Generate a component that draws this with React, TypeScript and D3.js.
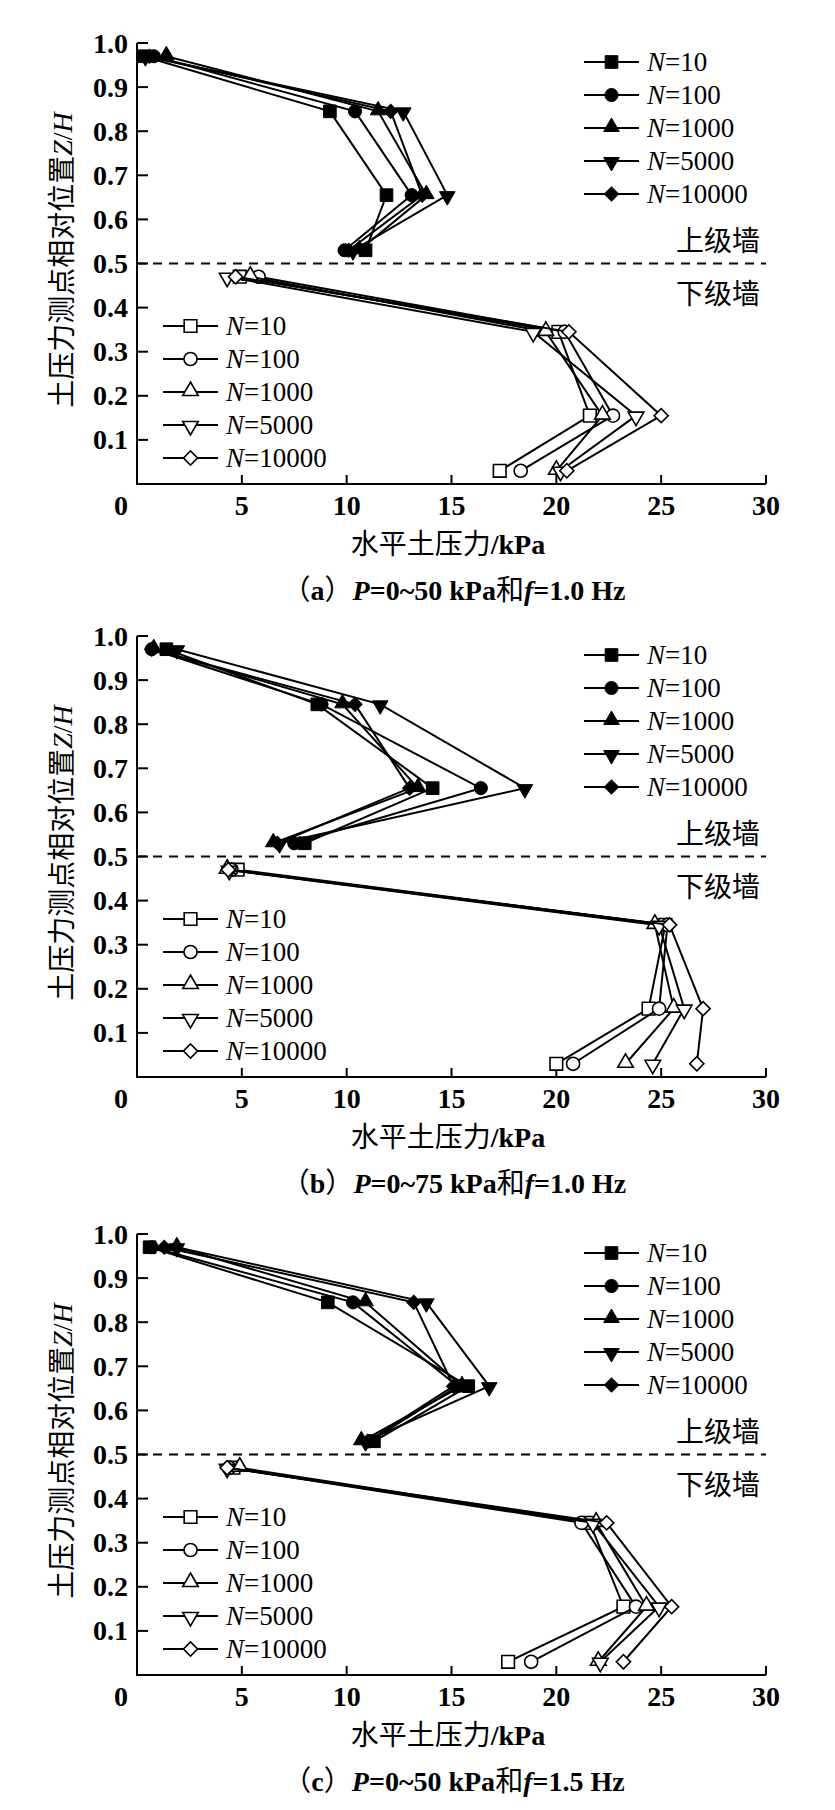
import * as d3 from "d3";
import React from "react";

// ── Data ──────────────────────────────────────────────────────────────────────
const Y_UPPER = [0.97, 0.845, 0.655, 0.53]; // 上级墙测点
const Y_LOWER = [0.47, 0.345, 0.155, 0.03]; // 下级墙测点
const SERIES_N = ["10", "100", "1000", "5000", "10000"];
const X_TICKS = [5, 10, 15, 20, 25, 30];
const Y_TICKS = [0.1, 0.2, 0.3, 0.4, 0.5, 0.6, 0.7, 0.8, 0.9, 1.0];

// (a) P=0~50 kPa, f=1.0 Hz
const A_UPPER = [
  [0.3, 9.2, 11.9, 10.9],
  [0.8, 10.4, 13.1, 9.9],
  [1.4, 11.5, 13.8, 10.6],
  [0.4, 12.7, 14.8, 10.3],
  [0.6, 12.1, 13.6, 10.1],
];
const A_LOWER = [
  [4.9, 20.1, 21.6, 17.3],
  [5.8, 20.4, 22.7, 18.3],
  [5.4, 19.5, 22.2, 20.0],
  [4.3, 18.9, 23.8, 20.2],
  [4.7, 20.6, 25.0, 20.5],
];

// (b) P=0~75 kPa, f=1.0 Hz
const B_UPPER = [
  [1.4, 8.6, 14.1, 8.0],
  [0.7, 8.8, 16.4, 7.5],
  [0.8, 9.8, 13.4, 6.5],
  [1.9, 11.6, 18.5, 6.8],
  [0.7, 10.4, 13.0, 6.7],
];
const B_LOWER = [
  [4.8, 25.2, 24.4, 20.0],
  [4.5, 25.3, 24.9, 20.8],
  [4.3, 24.7, 25.6, 23.3],
  [4.4, 24.9, 26.1, 24.6],
  [4.35, 25.4, 27.0, 26.7],
];

// (c) P=0~50 kPa, f=1.5 Hz
const C_UPPER = [
  [0.6, 9.1, 15.8, 11.3],
  [0.7, 10.3, 15.3, 11.1],
  [1.9, 10.9, 15.5, 10.7],
  [1.9, 13.8, 16.8, 10.9],
  [1.3, 13.2, 15.1, 11.0],
];
const C_LOWER = [
  [4.6, 21.6, 23.2, 17.7],
  [4.4, 21.2, 23.8, 18.8],
  [4.9, 21.9, 24.3, 22.0],
  [4.3, 21.75, 24.9, 22.1],
  [4.3, 22.4, 25.5, 23.2],
];

const PANELS = [
  { tag: "a", p: "0~50", f: "1.0", upper: A_UPPER, lower: A_LOWER },
  { tag: "b", p: "0~75", f: "1.0", upper: B_UPPER, lower: B_LOWER },
  { tag: "c", p: "0~50", f: "1.5", upper: C_UPPER, lower: C_LOWER },
];

// ── Layout ────────────────────────────────────────────────────────────────────
const W = 835;
const H = 1810;
const PANEL_TOP = [43, 636, 1234];
const PLOT_H = 441;
const SERIF = "'Liberation Serif', 'Times New Roman', serif";
const CJK = "'Noto Sans CJK SC', sans-serif";

const x = d3.scaleLinear().domain([0, 30]).range([137, 766]);

type Shape = "square" | "circle" | "triangle" | "down" | "diamond";
const SHAPES: Shape[] = ["square", "circle", "triangle", "down", "diamond"];

function symbolPath(shape: Shape) {
  const gen = d3.symbol();
  if (shape === "square") return gen.type(d3.symbolSquare).size(160)()!;
  if (shape === "circle") return gen.type(d3.symbolCircle).size(135)()!;
  if (shape === "diamond") return gen.type(d3.symbolSquare).size(100)()!;
  return gen.type(d3.symbolTriangle).size(105)()!;
}

function Marker({ shape, cx, cy, filled }: { shape: Shape; cx: number; cy: number; filled: boolean }) {
  let rot = 0;
  let dy = 0;
  if (shape === "diamond") rot = 45;
  if (shape === "down") { rot = 180; }
  if (shape === "triangle") dy = -1;
  if (shape === "down") dy = 1;
  return (
    <path
      d={symbolPath(shape)}
      transform={`translate(${cx},${cy + dy}) rotate(${rot})`}
      fill={filled ? "#000" : "#fff"}
      stroke="#000"
      strokeWidth={filled ? 1 : 1.6}
    />
  );
}

function Panel({ idx }: { idx: number }) {
  const cfg = PANELS[idx];
  const top = PANEL_TOP[idx];
  const y = d3.scaleLinear().domain([0, 1]).range([top + PLOT_H, top]);
  const y0 = y(0);
  const line = d3.line<[number, number]>().x((d) => x(d[0])).y((d) => y(d[1]));

  const group = (vals: number[][], levels: number[], filled: boolean) =>
    vals.map((row, si) => {
      const pts: [number, number][] = row.map((v, i) => [v, levels[i]]);
      return (
        <g key={si}>
          <path d={line(pts)!} fill="none" stroke="#000" strokeWidth={2} />
          {pts.map((p, i) => (
            <Marker key={i} shape={SHAPES[si]} cx={x(p[0])} cy={y(p[1])} filled={filled} />
          ))}
        </g>
      );
    });

  const legend = (lx: number, ly: number, filled: boolean) =>
    SERIES_N.map((n, i) => {
      const yy = ly + i * 33;
      return (
        <g key={n}>
          <line x1={lx} x2={lx + 55} y1={yy} y2={yy} stroke="#000" strokeWidth={2} />
          <Marker shape={SHAPES[i]} cx={lx + 27.5} cy={yy} filled={filled} />
          <text x={lx + 63} y={yy} dominantBaseline="central" fontFamily={SERIF} fontSize={27}>
            <tspan fontStyle="italic">N</tspan>={n}
          </text>
        </g>
      );
    });

  return (
    <g>
      {/* 0.5 divider */}
      <line x1={x(0)} x2={x(30)} y1={y(0.5)} y2={y(0.5)} stroke="#000" strokeWidth={2} strokeDasharray="9 7" />
      <text x={760} y={y(0.5) - 25} textAnchor="end" dominantBaseline="central" fontFamily={CJK} fontSize={28}>上级墙</text>
      <text x={760} y={y(0.5) + 28} textAnchor="end" dominantBaseline="central" fontFamily={CJK} fontSize={28}>下级墙</text>

      {/* axes */}
      <path d={`M${x(0)},${y(1)}V${y0}H${x(30)}`} fill="none" stroke="#000" strokeWidth={2} />
      {Y_TICKS.map((t) => (
        <g key={t}>
          <line x1={x(0)} x2={x(0) + 11} y1={y(t)} y2={y(t)} stroke="#000" strokeWidth={2} />
          <text x={128} y={y(t)} textAnchor="end" dominantBaseline="central" fontFamily={SERIF} fontWeight="bold" fontSize={28}>
            {t.toFixed(1)}
          </text>
        </g>
      ))}
      {X_TICKS.map((t) => (
        <g key={t}>
          <line x1={x(t)} x2={x(t)} y1={y0} y2={y0 - 9} stroke="#000" strokeWidth={2} />
          <text x={x(t)} y={y0 + 31} textAnchor="middle" fontFamily={SERIF} fontWeight="bold" fontSize={28}>
            {t}
          </text>
        </g>
      ))}
      <text x={x(0) - 16} y={y0 + 31} textAnchor="middle" fontFamily={SERIF} fontWeight="bold" fontSize={28}>0</text>

      {/* axis titles */}
      <text x={448} y={y0 + 70} textAnchor="middle" fontSize={28}>
        <tspan fontFamily={CJK}>水平土压力</tspan>
        <tspan fontFamily={SERIF} fontWeight="bold">/kPa</tspan>
      </text>
      <text transform={`translate(72,${top + 217}) rotate(-90)`} textAnchor="middle" fontSize={28}>
        <tspan fontFamily={CJK}>土压力测点相对位置</tspan>
        <tspan fontFamily={SERIF} fontStyle="italic">Z</tspan>
        <tspan fontFamily={SERIF}>/</tspan>
        <tspan fontFamily={SERIF} fontStyle="italic">H</tspan>
      </text>

      {/* series */}
      {group(cfg.upper, Y_UPPER, true)}
      {group(cfg.lower, Y_LOWER, false)}

      {/* legends */}
      {legend(584, top + 19, true)}
      {legend(163, top + 283, false)}

      {/* caption */}
      <text x={454} y={y0 + 116} textAnchor="middle" fontSize={28}>
        <tspan fontFamily={CJK}>（</tspan>
        <tspan fontFamily={SERIF} fontWeight="bold">{cfg.tag}</tspan>
        <tspan fontFamily={CJK}>）</tspan>
        <tspan fontFamily={SERIF} fontWeight="bold" fontStyle="italic">P</tspan>
        <tspan fontFamily={SERIF} fontWeight="bold">={cfg.p} kPa</tspan>
        <tspan fontFamily={CJK}>和</tspan>
        <tspan fontFamily={SERIF} fontWeight="bold" fontStyle="italic">f</tspan>
        <tspan fontFamily={SERIF} fontWeight="bold">={cfg.f} Hz</tspan>
      </text>
    </g>
  );
}

export default function App() {
  return (
    <svg
      width={W}
      height={H}
      viewBox={`0 0 ${W} ${H}`}
      style={{ position: "absolute", left: 0, top: 0, background: "#fff" }}
    >
      <rect width={W} height={H} fill="#fff" />
      {PANELS.map((_, i) => (
        <Panel key={i} idx={i} />
      ))}
    </svg>
  );
}
